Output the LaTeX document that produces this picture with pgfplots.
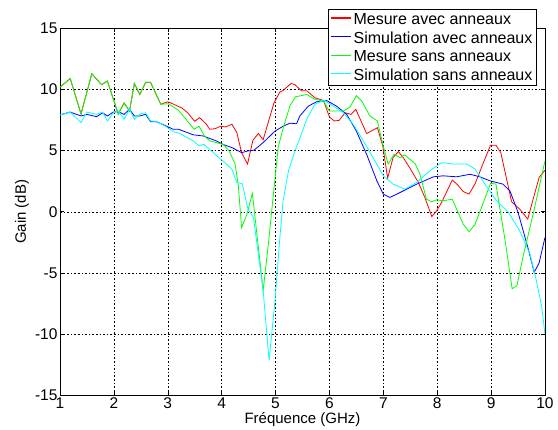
\documentclass[border=0pt]{standalone}
\usepackage{fontspec}
\setmainfont{Liberation Sans}
\usepackage{pgfplots}
\pgfplotsset{compat=1.18}
\definecolor{matred}{RGB}{255,0,0}
\definecolor{matblue}{RGB}{0,0,255}
\definecolor{matgreen}{RGB}{0,255,0}
\definecolor{matcyan}{RGB}{0,255,255}
\begin{document}
\begin{tikzpicture}
\path[use as bounding box] (-60pt,-35pt) rectangle (498pt,395pt);
\begin{axis}[
  scale only axis,
  width=485pt, height=366.5pt,
  xmin=1, xmax=10, ymin=-15, ymax=15,
  xtick={1,2,...,10},
  ytick={-15,-10,-5,0,5,10,15},
  grid=major,
  grid style={black, line width=0.45pt, dash pattern=on 1.6pt off 2pt},
  axis line style={black, line width=0.7pt},
  tick style={black, line width=0.5pt},
  tick align=inside,
  major tick length=4pt,
  /pgf/number format/assume math mode=true,
  tick label style={font=\fontsize{15.5}{17}\selectfont},
  xticklabel style={yshift=1pt},
  yticklabel style={xshift=1pt},
  label style={font=\fontsize{15}{17}\selectfont},
  xlabel={Fréquence (GHz)},
  ylabel={Gain (dB)},
  xlabel style={at={(axis description cs:0.5,-0.068)}, anchor=center},
  ylabel style={at={(axis description cs:-0.0784,0.5)}, anchor=center},
  legend style={at={(0.983,1.052)}, anchor=north east, draw=black, line width=0.7pt,
    fill=white, font=\fontsize{16}{18}\selectfont, inner xsep=2pt, inner ysep=1.5pt,
    row sep=1.8pt},
  legend cell align=left,
  legend image code/.code={\draw[#1, line width=1.1pt] (0pt,0.3ex) -- (20pt,0.3ex);},
  every axis plot/.append style={line width=0.8pt},
]
\addplot[color=matred] coordinates {
(1.0,10.2) (1.19,10.9) (1.39,8.0) (1.59,11.3) (1.77,10.4) (1.88,10.7) (2.08,8.0)
(2.19,8.9) (2.29,8.25) (2.38,10.5) (2.48,9.6) (2.59,10.6) (2.68,10.6) (2.87,8.8)
(3.0,9.0) (3.11,8.8) (3.18,8.65) (3.26,8.5) (3.37,8.1) (3.5,7.4) (3.59,7.7) (3.71,7.2)
(3.78,6.75) (3.88,6.8) (3.98,7.0) (4.07,6.94) (4.19,7.16) (4.28,6.5) (4.37,4.84)
(4.48,3.9) (4.58,5.85) (4.68,6.4) (4.77,5.9) (4.97,8.9) (5.08,9.8) (5.14,9.93)
(5.29,10.5) (5.36,10.4) (5.48,9.9) (5.58,9.9) (5.73,9.33) (5.89,9.1) (6.0,7.76)
(6.09,7.43) (6.18,7.48) (6.29,8.1) (6.4,7.97) (6.49,8.38) (6.69,6.4) (6.89,6.88)
(6.99,5.39) (7.08,2.75) (7.18,4.43) (7.28,4.92) (7.37,4.43) (7.49,3.6) (7.65,2.4)
(7.77,1.17) (7.9,-0.4) (7.99,0.08) (8.08,0.76) (8.28,2.59) (8.38,2.2) (8.48,1.66)
(8.59,1.44) (8.70,2.26) (8.87,4.16) (8.99,5.44) (9.09,5.44) (9.18,4.84) (9.38,0.82)
(9.53,0.22) (9.68,-0.6) (9.89,2.8) (10,3.4)
};
\addlegendentry{Mesure avec anneaux}
\addplot[color=matblue] coordinates {
(1.0,7.92) (1.19,8.16) (1.39,7.84) (1.5,7.97) (1.68,7.78) (1.79,8.1) (1.88,7.84)
(1.99,8.16) (2.08,8.19) (2.19,7.97) (2.29,8.38) (2.38,7.84) (2.48,7.84) (2.59,7.97)
(2.68,7.37) (2.79,7.37) (2.98,7.0) (3.1,6.75) (3.2,6.75) (3.47,6.3) (3.66,6.2)
(3.78,6.0) (3.9,5.8) (4.03,5.5) (4.19,5.25) (4.37,4.84) (4.49,4.98) (4.6,5.04)
(4.77,5.66) (4.99,6.6) (5.14,7.0) (5.27,7.25) (5.39,7.2) (5.45,7.84) (5.61,8.65)
(5.76,9.0) (5.95,9.1) (6.13,8.65) (6.32,7.97) (6.5,6.6) (6.69,4.7) (6.88,2.53)
(7.0,1.44) (7.12,1.17) (7.25,1.44) (7.4,1.77) (7.62,2.26) (7.93,2.86) (8.11,2.94)
(8.36,2.86) (8.61,3.07) (8.79,2.86) (8.98,2.53) (9.22,2.26) (9.35,1.7) (9.5,-0.05)
(9.69,-3.05) (9.8,-4.95) (9.89,-4.2) (10,-2.1)
};
\addlegendentry{Simulation avec anneaux}
\addplot[color=matgreen] coordinates {
(1.0,10.2) (1.19,10.9) (1.39,8.0) (1.59,11.3) (1.77,10.4) (1.88,10.7) (2.08,8.0)
(2.19,8.9) (2.29,8.25) (2.38,10.5) (2.48,9.6) (2.59,10.6) (2.68,10.6) (2.87,8.8)
(3.01,8.84) (3.2,8.3) (3.49,6.75) (3.58,7.0) (3.68,6.2) (3.78,5.8) (3.9,5.66)
(4.03,5.5) (4.14,4.98) (4.25,3.9) (4.31,2.1) (4.37,-1.3) (4.47,-0.2) (4.57,1.5)
(4.77,-6.45) (4.87,-2.5) (4.95,1.0) (5.05,5.3) (5.15,7.0) (5.27,8.7) (5.37,9.4)
(5.47,9.5) (5.58,9.6) (5.73,9.2) (5.89,9.06) (6.0,8.24) (6.26,8.24) (6.38,8.57)
(6.5,9.5) (6.6,9.06) (6.75,7.84) (6.89,7.43) (6.99,5.5) (7.09,3.9) (7.2,4.7)
(7.31,4.43) (7.4,4.65) (7.49,4.3) (7.59,3.94) (7.68,3.07) (7.8,1.03) (7.9,0.82)
(7.99,0.98) (8.11,0.9) (8.28,1.03) (8.48,-1.0) (8.59,-1.63) (8.70,-1.06) (8.88,1.03)
(8.99,2.34) (9.09,2.26) (9.27,-2.64) (9.39,-6.3) (9.48,-6.04) (9.59,-3.73)
(9.78,-0.19) (10,4.16)
};
\addlegendentry{Mesure sans anneaux}
\addplot[color=matcyan] coordinates {
(1.0,7.92) (1.19,8.16) (1.39,7.3) (1.5,8.16) (1.68,7.97) (1.79,8.16) (1.88,7.43)
(1.99,8.1) (2.08,8.24) (2.19,7.57) (2.29,8.38) (2.38,7.57) (2.48,8.0) (2.59,8.1)
(2.68,7.43) (2.79,7.4) (2.98,6.94) (3.1,6.56) (3.23,6.4) (3.47,5.8) (3.58,5.39)
(3.67,5.52) (3.88,4.7) (4.09,3.9) (4.19,3.48) (4.28,2.4) (4.38,2.3) (4.49,0.2)
(4.59,-0.46) (4.77,-6.45) (4.88,-12.16) (4.99,-7.27) (5.08,-2.1) (5.14,0.9)
(5.24,3.35) (5.36,4.98) (5.45,6.0) (5.58,7.6) (5.73,8.8) (5.89,9.15) (6.07,8.65)
(6.26,8.1) (6.44,7.16) (6.63,5.8) (6.81,4.43) (7.0,2.94) (7.18,2.26) (7.4,1.85)
(7.62,2.4) (7.86,3.35) (8.08,4.02) (8.3,3.9) (8.55,3.9) (8.7,3.5) (8.88,2.3)
(9.1,0.9) (9.32,-0.05) (9.53,-1.55) (9.72,-3.45) (9.84,-5.63) (9.94,-7.8) (10,-10.0)
};
\addlegendentry{Simulation sans anneaux}
\end{axis}
\end{tikzpicture}
\end{document}
